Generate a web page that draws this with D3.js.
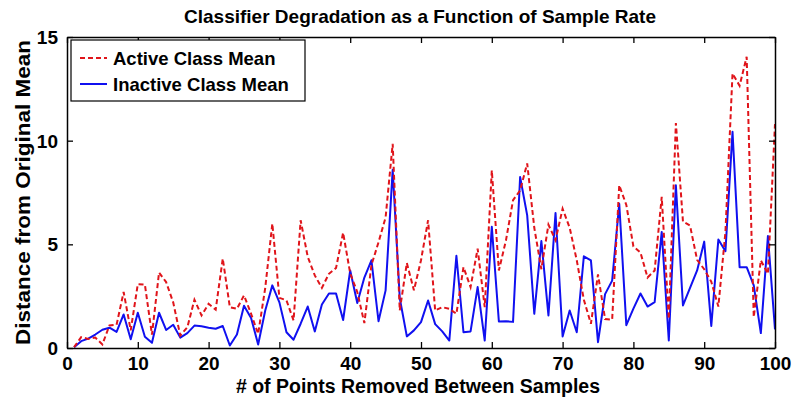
<!DOCTYPE html>
<html>
<head>
<meta charset="utf-8">
<script src="https://cdn.jsdelivr.net/npm/d3@7"></script>
<style>
  html, body { margin: 0; padding: 0; background: #fff; }
  svg text { font-family: "Liberation Sans", Arial, Helvetica, sans-serif; font-weight: bold; fill: #000; }
</style>
</head>
<body>
<svg id="chart" width="794" height="404"></svg>
<script>
// Sample spacing (number of points removed between samples)
const pointsRemoved = d3.range(1, 101);

// Distance of the classifier's class mean from the original mean
const activeClassMean = [
  0.04, 0.52, 0.44, 0.50, 0.17, 1.09, 1.12, 2.70, 0.85, 3.08,
  3.06, 0.64, 3.64, 3.18, 2.20, 0.60, 1.00, 2.33, 1.57, 2.13,
  1.85, 4.31, 1.97, 1.89, 2.54, 1.65, 0.68, 2.90, 6.00, 2.42,
  2.30, 1.33, 6.16, 4.40, 3.50, 2.90, 3.58, 3.86, 5.56, 3.60,
  2.70, 1.20, 4.00, 5.10, 6.30, 9.85, 1.81, 4.10, 2.78, 4.23,
  6.16, 1.81, 1.97, 1.89, 1.65, 3.90, 2.94, 4.79, 1.97, 8.57,
  3.74, 5.19, 7.13, 7.60, 8.90, 5.80, 3.80, 5.95, 5.20, 6.72,
  5.80, 4.23, 2.33, 1.17, 3.55, 1.40, 1.37, 7.85, 6.90, 4.90,
  4.60, 3.40, 3.74, 7.29, 1.40, 10.85, 6.10, 5.90, 4.25, 3.80,
  3.20, 2.00, 5.60, 13.24, 12.65, 14.05, 1.49, 4.23, 3.58, 10.80
];
const inactiveClassMean = [
  0.04, 0.33, 0.45, 0.65, 0.88, 0.98, 0.78, 1.62, 0.42, 1.70,
  0.54, 0.25, 1.70, 0.87, 1.12, 0.50, 0.72, 1.08, 1.05, 0.98,
  0.93, 1.06, 0.12, 0.65, 2.04, 1.45, 0.17, 1.81, 3.02, 2.20,
  0.76, 0.40, 1.17, 2.00, 0.80, 2.10, 2.63, 2.63, 1.35, 3.74,
  2.17, 3.40, 4.23, 1.29, 2.78, 8.60, 2.40, 0.56, 0.85, 1.25,
  2.29, 1.15, 0.80, 0.36, 4.45, 0.76, 0.80, 2.94, 0.36, 5.85,
  1.28, 1.29, 1.26, 8.25, 6.40, 1.65, 5.16, 1.57, 6.51, 0.56,
  1.81, 0.76, 4.42, 4.23, 0.28, 2.60, 3.25, 6.96, 1.10, 1.90,
  2.63, 2.00, 2.21, 5.60, 0.36, 7.85, 2.05, 2.90, 3.74, 5.13,
  1.06, 5.23, 4.67, 10.43, 3.90, 3.90, 3.02, 0.72, 5.40, 0.90
];

const xTicks = [0, 10, 20, 30, 40, 50, 60, 70, 80, 90, 100];
const yTicks = [0, 5, 10, 15];

const seriesNames = ["Active Class Mean", "Inactive Class Mean"];

const svg = d3.select("#chart");
const margin = { left: 67, right: 19, top: 37, bottom: 56 };
const W = 794, H = 404;

const x = d3.scaleLinear().domain([0, 100]).range([margin.left, W - margin.right]);
const y = d3.scaleLinear().domain([0, 15]).range([H - margin.bottom, margin.top]);

const tickLen = 6;

// Series lines
const line = d3.line().x((d, i) => x(pointsRemoved[i])).y(d => y(d));

svg.append("path")
  .datum(inactiveClassMean)
  .attr("fill", "none")
  .attr("stroke", "#1010f0")
  .attr("stroke-width", 2)
  .attr("stroke-linejoin", "round")
  .attr("d", line);

svg.append("path")
  .datum(activeClassMean)
  .attr("fill", "none")
  .attr("stroke", "#e0141a")
  .attr("stroke-width", 2)
  .attr("stroke-dasharray", "5,3")
  .attr("d", line);

// Axes: bottom/left carry labels, top/right only mirror the ticks (inward)
const fmt = d3.format("d");
const gx = svg.append("g").attr("transform", `translate(0,${y(0)})`)
  .call(d3.axisBottom(x).tickValues(xTicks).tickFormat(fmt).tickSizeInner(-tickLen).tickSizeOuter(0).tickPadding(9));
const gy = svg.append("g").attr("transform", `translate(${x(0)},0)`)
  .call(d3.axisLeft(y).tickValues(yTicks).tickFormat(fmt).tickSizeInner(-tickLen).tickSizeOuter(0).tickPadding(9));
const gt = svg.append("g").attr("transform", `translate(0,${y(15)})`)
  .call(d3.axisTop(x).tickValues(xTicks).tickFormat("").tickSizeInner(-tickLen).tickSizeOuter(0));
const gr = svg.append("g").attr("transform", `translate(${x(100)},0)`)
  .call(d3.axisRight(y).tickValues(yTicks).tickFormat("").tickSizeInner(-tickLen).tickSizeOuter(0));

[gx, gy, gt, gr].forEach(g => {
  g.select(".domain").attr("stroke", "#000").attr("stroke-width", 1.5);
  g.selectAll(".tick line").attr("stroke", "#000").attr("stroke-width", 1.3);
});
gx.selectAll(".tick text").style("font-size", "19px").attr("fill", "#000");
gy.selectAll(".tick text").style("font-size", "19px").attr("fill", "#000").attr("dy", "0.34em");

// Title and axis labels
svg.append("text")
  .attr("x", (x(0) + x(100)) / 2 - 1).attr("y", 23)
  .attr("text-anchor", "middle")
  .style("font-size", "19px")
  .text("Classifier Degradation as a Function of Sample Rate");

svg.append("text")
  .attr("x", (x(0) + x(100)) / 2 - 3).attr("y", 393)
  .attr("text-anchor", "middle")
  .style("font-size", "19.5px")
  .text("# of Points Removed Between Samples");

svg.append("text")
  .attr("transform", `translate(30,${(y(0) + y(15)) / 2}) rotate(-90)`)
  .attr("text-anchor", "middle")
  .style("font-size", "21px")
  .attr("textLength", 305)
  .attr("lengthAdjust", "spacingAndGlyphs")
  .text("Distance from Original Mean");

// Legend
const lg = svg.append("g").attr("transform", "translate(71,40)");
lg.append("rect").attr("width", 234).attr("height", 61)
  .attr("fill", "#fff").attr("stroke", "#000").attr("stroke-width", 1.2);
const legendStyles = [
  { color: "#e0141a", dash: "5,3" },
  { color: "#1010f0", dash: null }
];
seriesNames.forEach((name, i) => {
  const cy = 18 + i * 26;
  lg.append("line")
    .attr("x1", 9).attr("x2", 36).attr("y1", cy).attr("y2", cy)
    .attr("stroke", legendStyles[i].color).attr("stroke-width", 2)
    .attr("stroke-dasharray", legendStyles[i].dash);
  lg.append("text")
    .attr("x", 42).attr("y", cy).attr("dy", "0.36em")
    .style("font-size", "18.5px")
    .text(name);
});
</script>
</body>
</html>
